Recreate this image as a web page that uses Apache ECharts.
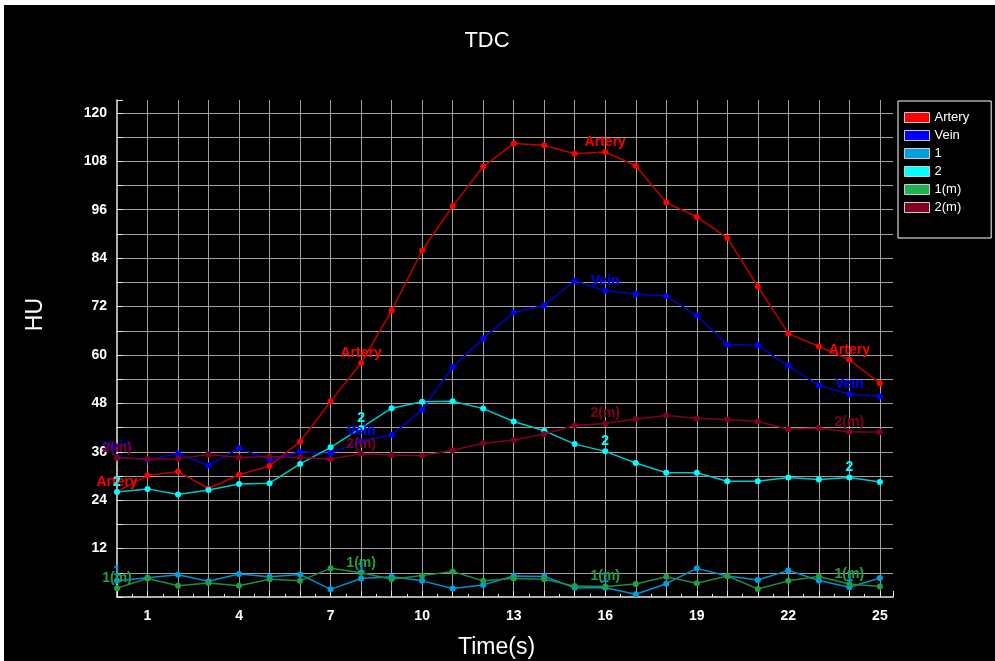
<!DOCTYPE html>
<html>
<head>
<meta charset="utf-8">
<title>TDC</title>
<script src="https://cdn.jsdelivr.net/npm/echarts/dist/echarts.min.js"></script>
<style>
  html, body { margin: 0; padding: 0; background: #fff; overflow: hidden; }
  #chart { position: absolute; left: 4px; top: 5px; width: 991px; height: 656px; background: #000; }
</style>
</head>
<body>
<div id="chart"></div>
<script>
  // time points (s)
  var time = [0, 1, 2, 3, 4, 5, 6, 7, 8, 9, 10, 11, 12, 13, 14, 15, 16, 17, 18, 19, 20, 21, 22, 23, 24, 25]

  // HU values per curve
  var artery = [26.1, 30.1, 31.1, 26.9, 30.3, 32.5, 38.5, 48.5, 58.0, 71.0, 85.9, 96.9, 106.7, 112.4, 112.0, 109.9, 110.3, 106.9, 97.8, 94.2, 89.0, 77.0, 65.3, 62.1, 58.8, 53.0]
  var vein = [34.7, 34.0, 35.6, 32.6, 36.9, 34.0, 36.0, 35.6, 38.6, 40.2, 46.4, 57.0, 64.1, 70.5, 72.3, 78.4, 75.9, 75.1, 74.6, 69.8, 62.6, 62.4, 57.3, 52.4, 50.3, 49.7]
  var roi1 = [4.0, 4.8, 5.5, 3.9, 5.7, 5.0, 5.6, 1.9, 4.6, 5.0, 4.0, 2.1, 3.0, 5.2, 5.1, 2.3, 2.3, 0.7, 3.3, 7.1, 5.2, 4.2, 6.6, 4.1, 2.4, 4.7]
  var roi2 = [26.0, 26.8, 25.4, 26.5, 28.0, 28.2, 33.0, 37.1, 41.9, 46.8, 48.4, 48.5, 46.7, 43.5, 41.2, 37.9, 36.1, 33.2, 30.8, 30.8, 28.7, 28.7, 29.6, 29.1, 29.6, 28.5]
  var roi1m = [2.2, 4.6, 2.8, 3.5, 2.8, 4.4, 4.0, 7.1, 6.0, 4.4, 5.3, 6.3, 4.0, 4.6, 4.4, 2.7, 2.6, 3.2, 5.0, 3.4, 5.2, 2.0, 4.0, 5.1, 3.2, 2.6]
  var roi2m = [34.5, 34.2, 34.3, 35.3, 34.6, 34.8, 34.6, 34.2, 35.5, 35.2, 35.0, 36.4, 38.1, 38.9, 40.4, 42.5, 43.0, 44.1, 45.0, 44.3, 44.0, 43.5, 41.6, 41.9, 40.9, 40.9]

  // points that carry the curve name
  var labelPoints = [0, 8, 16, 24]

  var font = 'Liberation Sans, Arial, sans-serif'

  function curve (name, values, lineColor, pointColor) {
    return {
      name: name,
      type: 'line',
      data: time.map(function (t, i) { return [t, values[i]] }),
      symbol: 'circle',
      symbolSize: 6,
      lineStyle: { color: lineColor, width: 1.5 },
      itemStyle: { color: pointColor },
      label: {
        show: true,
        position: 'top',
        distance: 0,
        color: pointColor,
        fontFamily: font,
        fontWeight: 'bold',
        fontSize: 14,
        formatter: function (p) {
          return labelPoints.indexOf(p.dataIndex) >= 0 ? p.seriesName : ''
        }
      },
      emphasis: { disabled: true }
    }
  }

  var chart = echarts.init(document.getElementById('chart'))
  chart.setOption({
    backgroundColor: '#000',
    animation: false,
    title: {
      text: 'TDC',
      left: 478,
      top: 31,
      textAlign: 'center',
      textVerticalAlign: 'middle',
      textStyle: { color: '#fff', fontSize: 22, fontWeight: 'normal', fontFamily: font }
    },
    graphic: [
      {
        type: 'text', left: 20, top: 293, rotation: Math.PI / 2,
        style: { text: 'HU', fill: '#fff', font: '23px ' + font }
      },
      {
        type: 'text', left: 454, top: 631,
        style: { text: 'Time(s)', fill: '#fff', font: '23px ' + font }
      }
    ],
    legend: {
      orient: 'vertical',
      left: 894,
      top: 96,
      icon: 'rect',
      itemWidth: 25,
      itemHeight: 10,
      itemGap: 5,
      padding: [10, 22, 24, 6],
      borderColor: '#fff',
      borderWidth: 1,
      textStyle: { color: '#fff', fontSize: 13, fontFamily: font },
      itemStyle: { borderColor: '#ccc', borderWidth: 1 },
      data: [
        { name: 'Artery', itemStyle: { color: '#ff0000' } },
        { name: 'Vein', itemStyle: { color: '#0000ff' } },
        { name: '1', itemStyle: { color: '#00a0e0' } },
        { name: '2', itemStyle: { color: '#00ffff' } },
        { name: '1(m)', itemStyle: { color: '#20b050' } },
        { name: '2(m)', itemStyle: { color: '#800020' } }
      ]
    },
    grid: { left: 113, top: 95, width: 776, height: 497 },
    xAxis: {
      type: 'value',
      min: 0,
      max: 25.43,
      interval: 1,
      axisLine: { lineStyle: { color: '#e8e8e8', width: 1.5 } },
      axisTick: { inside: true, length: 6, lineStyle: { color: '#e8e8e8' } },
      minorTick: { show: true, splitNumber: 2, length: 3, lineStyle: { color: '#e8e8e8' } },
      splitLine: { show: true, showMinLine: false, showMaxLine: false, lineStyle: { color: '#a0a0a0', width: 1 } },
      axisLabel: {
        color: '#fff', fontSize: 14, fontWeight: 'bold', fontFamily: font, margin: 12,
        formatter: function (v) { return v % 3 === 1 ? String(v) : '' }
      }
    },
    yAxis: {
      type: 'value',
      min: 0,
      max: 123.2,
      interval: 6,
      axisLine: { show: true, lineStyle: { color: '#e8e8e8', width: 1.5 } },
      axisTick: { show: true, inside: true, length: 6, lineStyle: { color: '#e8e8e8' } },
      splitLine: { show: true, showMinLine: false, showMaxLine: false, lineStyle: { color: '#a0a0a0', width: 1 } },
      axisLabel: {
        color: '#fff', fontSize: 14, fontWeight: 'bold', fontFamily: font, margin: 10,
        formatter: function (v) { return v > 0 && v % 12 === 0 ? String(v) : '' }
      }
    },
    series: [
      curve('Artery', artery, '#c00000', '#ff0000'),
      curve('Vein', vein, '#0000c8', '#0000ff'),
      curve('1', roi1, '#0090d0', '#00a0e0'),
      curve('2', roi2, '#00c8c8', '#00ffff'),
      curve('1(m)', roi1m, '#208c40', '#20a040'),
      curve('2(m)', roi2m, '#800020', '#800020')
    ]
  })
</script>
</body>
</html>
